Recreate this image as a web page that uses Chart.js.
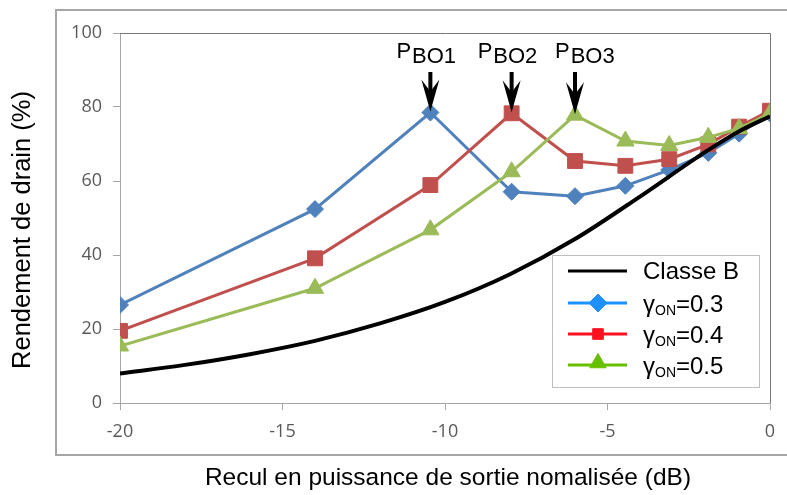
<!DOCTYPE html>
<html>
<head>
<meta charset="utf-8">
<script src="https://cdn.jsdelivr.net/npm/chart.js@4.4.1/dist/chart.umd.min.js"></script>
<style>
  body { margin: 0; background: #fff; }
</style>
</head>
<body>
<canvas id="myChart" width="787" height="495"></canvas>
<script>
// data
const backoff = [-20, -14, -10.45, -7.95, -6, -4.45, -3.1, -1.9, -0.95, 0];
const eff03 = [26.5, 52.4, 78.5, 57.1, 55.9, 58.7, 63.0, 67.6, 72.8, 78.3];
const eff04 = [19.5, 39.1, 58.9, 78.3, 65.4, 64.1, 65.9, 69.9, 74.7, 79.0];
const eff05 = [15.4, 31.0, 46.8, 62.5, 77.8, 70.8, 69.6, 71.8, 74.2, 78.3];
const classBX = [-20, -18, -16, -14, -12, -10, -8, -6, -4, -2, -1, 0];
const classBY = [8.0, 10.3, 13.2, 16.8, 21.5, 27.3, 34.8, 44.3, 55.8, 67.8, 73.2, 77.5];
const xTicks = [-20, -15, -10, -5, 0];
const yTicks = [0, 20, 40, 60, 80, 100];
const gammaValues = ['0.3', '0.4', '0.5'];
const peakNames = ['BO1', 'BO2', 'BO3'];

const lineColors = ['#4F81BD', '#C0504D', '#9BBB59'];
const legendColors = ['#1E90FF', '#FF1020', '#66C000'];
const markers = ['rectRot', 'rect', 'triangle'];
const markerSizes = [8.5, 10.5, 10];
const legendSizes = [9, 7.5, 9.5];
const peakLabelShift = [-34, -34, -20];

function pts(xs, ys) {
  return xs.map((x, i) => ({ x: x, y: ys[i] }));
}

function series(values, i) {
  return {
    data: pts(backoff, values),
    borderColor: lineColors[i],
    backgroundColor: lineColors[i],
    borderWidth: 3,
    pointStyle: markers[i],
    pointRadius: markerSizes[i],
    pointBorderWidth: 1,
    showLine: true,
    order: 3 - i
  };
}

const data = {
  datasets: [
    {
      data: pts(classBX, classBY),
      borderColor: '#000',
      borderWidth: 4,
      pointRadius: 0,
      showLine: true,
      cubicInterpolationMode: 'monotone',
      order: 0
    },
    series(eff03, 0),
    series(eff04, 1),
    series(eff05, 2)
  ]
};

const decor = {
  id: 'decor',
  beforeDraw(chart) {
    const ctx = chart.ctx;
    ctx.save();
    ctx.strokeStyle = '#A6A6A6';
    ctx.lineWidth = 2;
    ctx.strokeRect(56, 10, 760, 445);
    ctx.restore();
  },
  afterDraw(chart) {
    const ctx = chart.ctx;
    const a = chart.chartArea;
    const xs = chart.scales.x, ys = chart.scales.y;
    ctx.save();

    // plot area border top / right
    ctx.strokeStyle = '#767676';
    ctx.lineWidth = 1;
    ctx.beginPath();
    ctx.moveTo(a.left, a.top + 0.5);
    ctx.lineTo(a.right + 0.5, a.top + 0.5);
    ctx.lineTo(a.right + 0.5, a.bottom);
    ctx.stroke();

    // axis titles
    ctx.fillStyle = '#000';
    ctx.font = '24.5px "Liberation Sans", Arial, sans-serif';
    ctx.textAlign = 'center';
    ctx.textBaseline = 'middle';
    ctx.fillText('Recul en puissance de sortie nomalisée (dB)', (a.left + a.right) / 2 + 3, 478);
    ctx.save();
    ctx.translate(23, 230);
    ctx.rotate(-Math.PI / 2);
    ctx.font = '25.5px "Liberation Sans", Arial, sans-serif';
    ctx.fillText('Rendement de drain (%)', 0, 0);
    ctx.restore();

    // P_BO arrows at each series peak
    [eff03, eff04, eff05].forEach((vals, i) => {
      const k = vals.indexOf(Math.max(...vals.slice(0, 6)));
      const px = xs.getPixelForValue(backoff[k]);
      const tip = ys.getPixelForValue(vals[k]) - 1;
      ctx.fillStyle = '#000';
      ctx.fillRect(px - 2, 72, 4, tip - 72 - 18);
      ctx.beginPath();
      ctx.moveTo(px, tip);
      ctx.lineTo(px - 9, tip - 32);
      ctx.lineTo(px, tip - 20);
      ctx.lineTo(px + 9, tip - 32);
      ctx.closePath();
      ctx.fill();

      ctx.textAlign = 'left';
      ctx.textBaseline = 'alphabetic';
      ctx.font = '22px "Liberation Sans", Arial, sans-serif';
      const x0 = px + peakLabelShift[i];
      ctx.fillText('P', x0, 58);
      ctx.fillText(peakNames[i], x0 + ctx.measureText('P').width + 1, 63);
    });

    // legend
    ctx.fillStyle = '#fff';
    ctx.fillRect(552, 255, 207, 132);
    ctx.strokeStyle = '#BFBFBF';
    ctx.lineWidth = 1;
    ctx.strokeRect(552.5, 255.5, 207, 132);

    const rowY = [271, 303, 334, 365];
    ctx.textBaseline = 'middle';
    ctx.textAlign = 'left';
    ctx.strokeStyle = '#000';
    ctx.lineWidth = 3;
    ctx.beginPath();
    ctx.moveTo(568, rowY[0]);
    ctx.lineTo(627, rowY[0]);
    ctx.stroke();
    ctx.fillStyle = '#000';
    ctx.font = '24px "Liberation Sans", Arial, sans-serif';
    ctx.fillText('Classe B', 643, rowY[0] + 1);

    gammaValues.forEach((g, i) => {
      const y = rowY[i + 1];
      ctx.strokeStyle = legendColors[i];
      ctx.fillStyle = legendColors[i];
      ctx.lineWidth = 3;
      ctx.beginPath();
      ctx.moveTo(568, y);
      ctx.lineTo(627, y);
      ctx.stroke();
      ctx.lineWidth = 1;
      Chart.helpers.drawPoint(ctx, { pointStyle: markers[i], radius: legendSizes[i], rotation: 0, borderWidth: 1 }, 598, i === 2 ? y - 2 : y);

      ctx.fillStyle = '#000';
      ctx.textBaseline = 'alphabetic';
      ctx.font = '24px "Liberation Sans", Arial, sans-serif';
      let x = 643;
      ctx.fillText('γ', x, y + 9);
      x += ctx.measureText('γ').width;
      ctx.font = '14px "Liberation Sans", Arial, sans-serif';
      ctx.fillText('ON', x, y + 12);
      x += ctx.measureText('ON').width;
      ctx.font = '24px "Liberation Sans", Arial, sans-serif';
      ctx.fillText('=' + g, x, y + 9);
    });

    ctx.restore();
  }
};

const tickFont = { family: '"Open Sans", sans-serif', size: 18 };

const config = {
  type: 'scatter',
  data: data,
  options: {
    responsive: false,
    animation: false,
    layout: { padding: { top: 33, right: 17, left: 0, bottom: 0 } },
    plugins: {
      legend: { display: false },
      tooltip: { enabled: false }
    },
    scales: {
      x: {
        type: 'linear',
        min: -20,
        max: 0,
        afterBuildTicks: s => { s.ticks = xTicks.map(v => ({ value: v })); },
        afterFit: s => { s.height = 92; },
        grid: { drawOnChartArea: false, tickLength: 7, color: '#A6A6A6' },
        border: { color: '#A6A6A6' },
        ticks: { padding: 11, color: '#595959', font: tickFont, maxRotation: 0 }
      },
      y: {
        min: 0,
        max: 100,
        afterBuildTicks: s => { s.ticks = yTicks.map(v => ({ value: v })); },
        afterFit: s => { s.width = 120; },
        grid: { drawOnChartArea: false, tickLength: 7, color: '#A6A6A6' },
        border: { color: '#A6A6A6' },
        ticks: { padding: 11, color: '#595959', font: tickFont }
      }
    }
  },
  plugins: [decor]
};

var myChart = new Chart(document.getElementById('myChart'), config);
</script>
</body>
</html>
